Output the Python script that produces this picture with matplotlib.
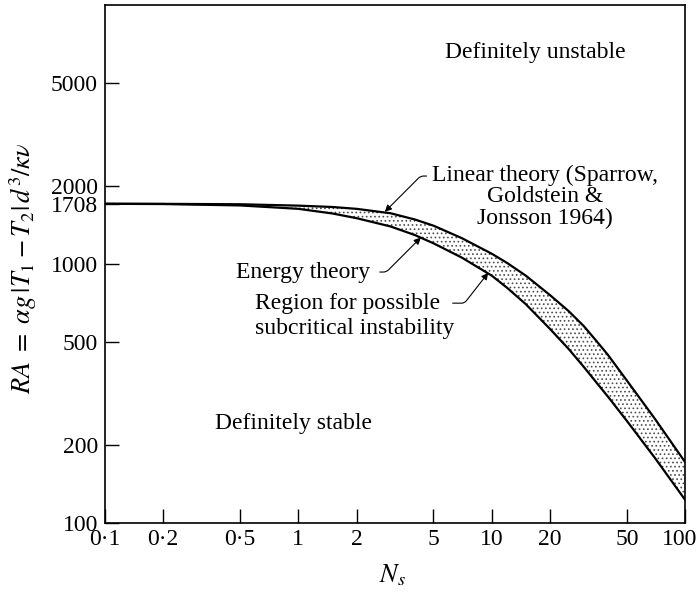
import numpy as np
import matplotlib
matplotlib.use("Agg")
import matplotlib.pyplot as plt
import matplotlib.transforms as mtransforms
from matplotlib.ticker import FixedLocator, FixedFormatter, NullLocator

plt.rcParams["font.family"] = "Liberation Serif"
plt.rcParams["mathtext.fontset"] = "stix"
plt.rcParams["hatch.linewidth"] = 0.7

# values
ns = [0.1, 0.2, 0.5, 1, 1.5, 2, 3, 4, 5, 7, 10, 12, 15, 20, 25, 30, 35, 40,
      50, 70, 100]
ra_linear = [1708, 1707, 1701, 1680, 1660, 1633, 1570, 1486, 1406, 1259,
             1096, 1010, 902, 759, 658, 575, 502, 445, 355, 252, 172]
ra_energy = [1708, 1704, 1683, 1633, 1567, 1503, 1396, 1294, 1202, 1059,
             902, 810, 700, 562, 470, 400, 347, 307, 248, 178, 123]

xticks = [0.1, 0.2, 0.5, 1, 2, 5, 10, 20, 50, 100]
xlabels = ["0·1", "0·2", "0·5", "1", "2", "5", "10", "20", "50", "100"]
yticks = [100, 200, 500, 1000, 1708, 2000, 5000]
ylabels = ["100", "200", "500", "1000", "1708", "2000", "5000"]

fig = plt.figure(figsize=(7, 5.96), dpi=100)
ax = fig.add_axes([0.15, 0.1225, 0.8286, 0.8691])

x = np.array(ns)
ax.fill_between(x, ra_energy, ra_linear, facecolor="white", edgecolor="0.3",
                hatch="....", linewidth=0)
ax.plot(x, ra_linear, color="black", lw=1.6)
ax.plot(x, ra_energy, color="black", lw=1.6)

ax.set_xscale("log")
ax.set_yscale("log")
ax.set_xlim(0.1, 100)
ax.set_ylim(100, 10000)

ax.xaxis.set_major_locator(FixedLocator(xticks))
ax.xaxis.set_major_formatter(FixedFormatter(xlabels))
ax.xaxis.set_minor_locator(NullLocator())
ax.yaxis.set_major_locator(FixedLocator(yticks))
ax.yaxis.set_major_formatter(FixedFormatter(ylabels))
ax.yaxis.set_minor_locator(NullLocator())
ax.tick_params(direction="in", length=10, width=1, labelsize=17)
ax.tick_params(axis="x", pad=4)
ax.tick_params(axis="y", pad=5)
for s in ax.spines.values():
    s.set_linewidth(1.2)

# keep the last x label inside the canvas
last = ax.xaxis.get_major_ticks()[-1].label1
last.set_transform(last.get_transform()
                   + mtransforms.ScaledTranslation(-4 / 72, 0, fig.dpi_scale_trans))

fig.text(392 / 700, 1 - 575 / 596, "$N_s$", fontsize=19, ha="center", va="center")
fig.text(23 / 700, 1 - 268 / 596,
         r"$RA\ =\ \alpha g\,|T_1 - T_2|\,d^3/\kappa\nu$",
         fontsize=19, rotation=90, ha="center", va="center")

fs = 17
ax.text(16.8, 6530, "Definitely unstable", fontsize=fs, ha="center", va="center")
ax.text(0.945, 243, "Definitely stable", fontsize=fs, ha="center", va="center")

arrow = dict(arrowstyle="-|>", color="black", lw=0.8, mutation_scale=10,
             shrinkA=2, shrinkB=0)

ax.annotate("Linear theory (Sparrow,\nGoldstein &\nJonsson 1964)",
            xy=(2.8, 1590), xytext=(18.9, 1815), fontsize=fs,
            ha="center", va="center", multialignment="center", linespacing=1.0,
            arrowprops=dict(arrow, connectionstyle="angle,angleA=180,angleB=45,rad=3",
                            relpos=(0, 0.83)))
ax.annotate("Energy theory", xy=(4.3, 1265), xytext=(2.35, 931), fontsize=fs,
            ha="right", va="center",
            arrowprops=dict(arrow, shrinkA=5,
                            connectionstyle="angle,angleA=0,angleB=45,rad=3",
                            relpos=(1.0, 0.5)))
ax.annotate("Region for possible", xy=(9.6, 925), xytext=(0.597, 706),
            fontsize=fs, ha="left", va="center",
            arrowprops=dict(arrow, shrinkA=7,
                            connectionstyle="angle,angleA=0,angleB=52,rad=3",
                            relpos=(1.0, 0.5)))
ax.text(0.597, 566, "subcritical instability", fontsize=fs, ha="left", va="center")

fig.savefig("out.png", dpi=100)
